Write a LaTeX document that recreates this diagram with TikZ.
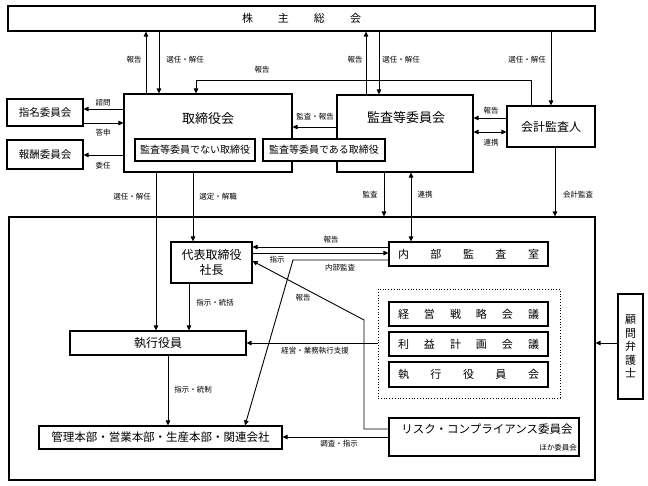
\documentclass[tikz,border=0pt]{standalone}
\usepackage{fontspec}
\newfontfamily\jp{Noto Sans CJK JP}
\usetikzlibrary{arrows.meta}
\newcommand\fsz[1]{\fontsize{#1}{#1}\selectfont}
\begin{document}
\begin{tikzpicture}[x=1pt,y=-1pt,
  box/.style={draw,line width=1.1pt,inner sep=0pt,fill=white},
  conn/.style={line width=0.9pt},
  arr/.style={conn,-{Triangle[length=5pt,width=4.5pt]}},
  darr/.style={conn,{Triangle[length=5pt,width=4.5pt]}-{Triangle[length=5pt,width=4.5pt]}},
  lab/.style={font=\jp\fsz{7.5},inner sep=0pt},
  txt/.style={inner sep=0pt}]
\useasboundingbox (0,0) rectangle (648,486);
% ---------- boxes ----------
\node[box,minimum width=587pt,minimum height=25pt,font=\jp\fsz{11}] (kabu) at (301.5,18.5) {\makebox[119pt][s]{株\hfill 主\hfill 総\hfill 会}};
\node[box,minimum width=586pt,minimum height=263pt] (big) at (302,348.5) {};
\node[box,minimum width=168pt,minimum height=78pt] (tori) at (208,133) {};
\node[txt,font=\jp\fsz{13}] (toriT) at (208,119) {取締役会};
\node[box,minimum width=136pt,minimum height=77pt] (kansa) at (405,133.5) {};
\node[txt,font=\jp\fsz{13}] (kansaT) at (406,118) {監査等委員会};
\node[box,minimum width=120pt,minimum height=22pt,font=\jp\fsz{10}] (notk) at (195,150) {監査等委員でない取締役};
\node[box,minimum width=122pt,minimum height=22pt,font=\jp\fsz{10}] (dearu) at (324,150) {監査等委員である取締役};
\node[box,minimum width=76pt,minimum height=27pt,font=\jp\fsz{10.5}] (shimei) at (45,112.5) {指名委員会};
\node[box,minimum width=76pt,minimum height=29pt,font=\jp\fsz{10.5}] (houshu) at (45,154.5) {報酬委員会};
\node[box,minimum width=88pt,minimum height=41pt,font=\jp\fsz{12}] (kaikei) at (551,126.5) {会計監査人};
\node[box,minimum width=81pt,minimum height=41pt,font=\jp\fsz{12},align=center] (daihyo) at (211.5,262.5) {代表取締役\\[3pt]社長};
\node[box,minimum width=159pt,minimum height=24pt,font=\jp\fsz{11}] (naibu) at (468.5,254) {\makebox[141pt][s]{内\hfill 部\hfill 監\hfill 査\hfill 室}};
\node[draw,dotted,line width=0.8pt,minimum width=182pt,minimum height=109pt,inner sep=0pt] (dot) at (469,343.5) {};
\node[box,minimum width=159pt,minimum height=24pt,font=\jp\fsz{11}] (keiei) at (468.5,314) {\makebox[141pt][s]{経\hfill 営\hfill 戦\hfill 略\hfill 会\hfill 議}};
\node[box,minimum width=159pt,minimum height=24pt,font=\jp\fsz{11}] (rieki) at (468.5,344) {\makebox[141pt][s]{利\hfill 益\hfill 計\hfill 画\hfill 会\hfill 議}};
\node[box,minimum width=159pt,minimum height=25pt,font=\jp\fsz{11}] (yakkai) at (468.5,374.5) {\makebox[141pt][s]{執\hfill 行\hfill 役\hfill 員\hfill 会}};
\node[box,minimum width=190pt,minimum height=38pt] (risk) at (484,437) {};
\node[txt,font=\jp\fsz{11.5}] (riskT) at (487,429) {リスク・コンプライアンス委員会};
\node[txt,font=\jp\fsz{7.5},anchor=east] (hoka) at (577,448) {ほか委員会};
\node[box,minimum width=176pt,minimum height=24pt,font=\jp\fsz{12}] (shikko) at (158,343) {執行役員};
\node[box,minimum width=243pt,minimum height=23pt,font=\jp\fsz{11.5}] (kanri) at (160.5,437.5) {管理本部・営業本部・生産本部・関連会社};
\node[box,minimum width=25pt,minimum height=105pt,font=\jp\fsz{11},align=center] (komon) at (630.5,346.5) {顧\\[2.5pt]問\\[2.5pt]弁\\[2.5pt]護\\[2.5pt]士};
% ---------- connectors ----------
\draw[arr] (tori.north -| 146,0) -- (kabu.south -| 146,0);
\draw[arr] (kabu.south -| 159,0) -- (tori.north -| 159,0);
\draw[arr] (kansa.north -| 366,0) -- (kabu.south -| 366,0);
\draw[arr] (kabu.south -| 379,0) -- (kansa.north -| 379,0);
\draw[arr] (kabu.south -| 551,0) -- (kaikei.north -| 551,0);
\draw[arr] (kaikei.north -| 531,0) -- (531,80) -- (196,80) -- (tori.north -| 196,0);
\draw[arr] (tori.west |- 0,109) -- (shimei.east |- 0,109);
\draw[arr] (shimei.east |- 0,123) -- (tori.west |- 0,123);
\draw[arr] (tori.west |- 0,155) -- (houshu.east |- 0,155);
\draw[arr] (kansa.west |- 0,127) -- (tori.east |- 0,127);
\draw[arr] (kaikei.west |- 0,118) -- (kansa.east |- 0,118);
\draw[darr] (kansa.east |- 0,132) -- (kaikei.west |- 0,132);
\draw[arr] (tori.south -| 156,0) -- (shikko.north -| 156,0);
\draw[arr] (tori.south -| 193,0) -- (daihyo.north -| 193,0);
\draw[arr] (kansa.south -| 384,0) -- (big.north -| 384,0);
\draw[darr] (kansa.south -| 411,0) -- (naibu.north -| 411,0);
\draw[arr] (kaikei.south -| 555,0) -- (big.north -| 555,0);
\draw[arr] (naibu.west |- 0,247) -- (daihyo.east |- 0,247);
\draw[arr] (daihyo.east |- 0,253) -- (naibu.west |- 0,253);
\draw[arr] (naibu.west |- 0,260) -- (293,260) -- (kanri.north -| 245,0);
\draw[arr] (daihyo.south -| 189,0) -- (shikko.north -| 189,0);
\draw[arr] (dot.west |- 0,343) -- (shikko.east |- 0,343);
\draw[arr] (risk.west |- 0,429) -- (364,429) -- (364,320) -- (daihyo.east |- 0,261);
\draw[arr] (risk.west |- 0,437) -- (kanri.east |- 0,437);
\draw[arr] (shikko.south -| 168,0) -- (kanri.north -| 168,0);
\draw[arr] (komon.west |- 0,343) -- (big.east |- 0,343);
% redraw overlapping box on top
\node[box,minimum width=122pt,minimum height=22pt,font=\jp\fsz{10}] (dearu2) at (324,150) {監査等委員である取締役};
% ---------- labels ----------
\node[lab] (l1) at (134,60) {報告};
\node[lab] (l2) at (185,60) {選任・解任};
\node[lab] (l3) at (355,60) {報告};
\node[lab] (l4) at (401,60) {選任・解任};
\node[lab] (l5) at (527,60) {選任・解任};
\node[lab] (l6) at (262,70) {報告};
\node[lab] (l7) at (103,103) {諮問};
\node[lab] (l8) at (103,133) {答申};
\node[lab] (l9) at (103,166) {委任};
\node[lab] (l10) at (315,117) {監査・報告};
\node[lab] (l11) at (491,111) {報告};
\node[lab] (l12) at (491,143) {連携};
\node[lab] (l13) at (132,197) {選任・解任};
\node[lab] (l14) at (218,197) {選定・解職};
\node[lab] (l15) at (370,195) {監査};
\node[lab] (l16) at (425,195) {連携};
\node[lab] (l17) at (578,195) {会計監査};
\node[lab] (l18) at (331,240) {報告};
\node[lab] (l19) at (277,260) {指示};
\node[lab] (l20) at (340,268) {内部監査};
\node[lab] (l21) at (215,303) {指示・統括};
\node[lab] (l22) at (303,298) {報告};
\node[lab] (l23) at (315,351) {経営・業務執行支援};
\node[lab] (l24) at (193,390) {指示・統制};
\node[lab] (l25) at (339,444) {調査・指示};
\end{tikzpicture}
\end{document}
